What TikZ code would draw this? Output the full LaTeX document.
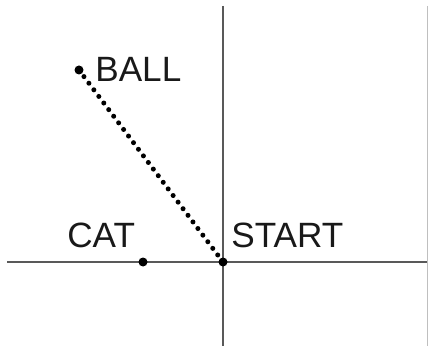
\documentclass[tikz,border=0pt]{standalone}
\usepackage{fontspec}
\setmainfont{Liberation Sans}
\usepackage{tikz}
\usetikzlibrary{positioning}

\begin{document}
\begin{tikzpicture}[x=0.02cm, y=-0.02cm,
        axis/.style={draw=black!65, line width=1.1pt},
        pt/.style={circle, fill=black, inner sep=0pt, minimum size=0.18cm},
        lbl/.style={anchor=base west, inner sep=0pt, font=\fontsize{20}{24}\selectfont, text=black!90}]
        \useasboundingbox (0,0) rectangle (428,347);

        % Achsen
        \coordinate (xl) at (7,262);
        \coordinate (xr) at (427,262);
        \coordinate (yt) at (223,6);
        \coordinate (yb) at (223,346);
        \coordinate (rt) at (427,6);
        \coordinate (rb) at (427,346);
        \draw[axis] (xl) -- (xr);
        \draw[axis] (yt) -- (yb);
        \draw[black!25, line width=0.5pt] (rt) -- (rb);

        % Punkte
        \node[pt] (start) at (223,262) {};
        \node[pt] (cat) at (143,262) {};
        \node[pt] (ball) at (79,70) {};

        \draw[line width=2.85pt, line cap=round, dash pattern=on 0pt off 4.7pt]
            (ball.center) -- (start.center);

        % Beschriftungen
        \node[lbl] (lball) at (95,82) {BALL};
        \node[lbl] (lcat) at (67,247) {CAT};
        \node[lbl] (lstart) at (231,247) {START};

    \end{tikzpicture}
\end{document}
